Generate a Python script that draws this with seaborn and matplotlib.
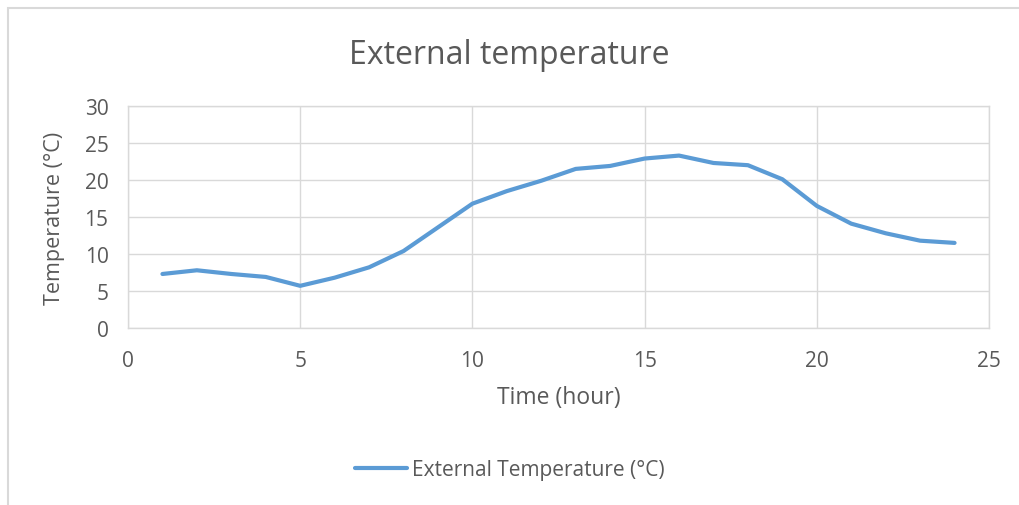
import matplotlib
matplotlib.use("Agg")
import matplotlib.pyplot as plt
import seaborn as sns
import pandas as pd
from matplotlib.patches import Rectangle

hours = list(range(1, 25))
temps = [7.3, 7.8, 7.3, 6.9, 5.7, 6.8, 8.2, 10.4, 13.6, 16.8, 18.5, 19.9,
         21.5, 21.9, 22.9, 23.3, 22.3, 22.0, 20.1, 16.5, 14.1, 12.8, 11.8, 11.5]
series_name = "External Temperature (°C)"
x_ticks = [0, 5, 10, 15, 20, 25]
y_ticks = [0, 5, 10, 15, 20, 25, 30]

sns.set_theme(style="white")
plt.rcParams['font.family'] = ['Open Sans', 'DejaVu Sans']
text_color = "#595959"
grid_color = "#d9d9d9"

df = pd.DataFrame({"Time": hours, "Temp": temps, "Series": series_name})

fig = plt.figure(figsize=(10.19, 5.06), dpi=100)
ax = fig.add_axes([128/1019, 1-329/506, (989-128)/1019, (329-107)/506])

sns.lineplot(data=df, x="Time", y="Temp", hue="Series", palette=["#5B9BD5"],
             linewidth=3, ax=ax, legend=True)

ax.set_xlim(0, 25)
ax.set_ylim(0, 30)
ax.set_xticks(x_ticks)
ax.set_yticks(y_ticks)
ax.grid(True, color=grid_color, linewidth=1)
ax.set_axisbelow(True)
for s in ax.spines.values():
    s.set_color(grid_color)
    s.set_linewidth(1)
ax.tick_params(axis="both", colors=text_color, labelsize=15, length=0)
ax.tick_params(axis="x", pad=16)
ax.tick_params(axis="y", pad=14)
ax.set_xlabel("Time (hour)", fontsize=16.5, color=text_color, labelpad=10)
ax.set_ylabel("Temperature (°C)", fontsize=15.5, color=text_color, labelpad=14)
fig.text(0.5, 1-55/506, "External temperature", ha="center", va="center",
         fontsize=23, color=text_color)

handles, labels = ax.get_legend_handles_labels()
ax.legend_.remove()
leg = fig.legend(handles, labels, loc="center", bbox_to_anchor=(0.5, 1-471/506),
                 frameon=False, fontsize=15, handlelength=2.5, handletextpad=0.25)
for t in leg.get_texts():
    t.set_color(text_color)

fig.patches.append(Rectangle((8/1019, -0.1), 1.2, 1-9/506+0.1, transform=fig.transFigure,
                             fill=False, edgecolor=grid_color, linewidth=1.5))

fig.savefig("out.png", dpi=100)
